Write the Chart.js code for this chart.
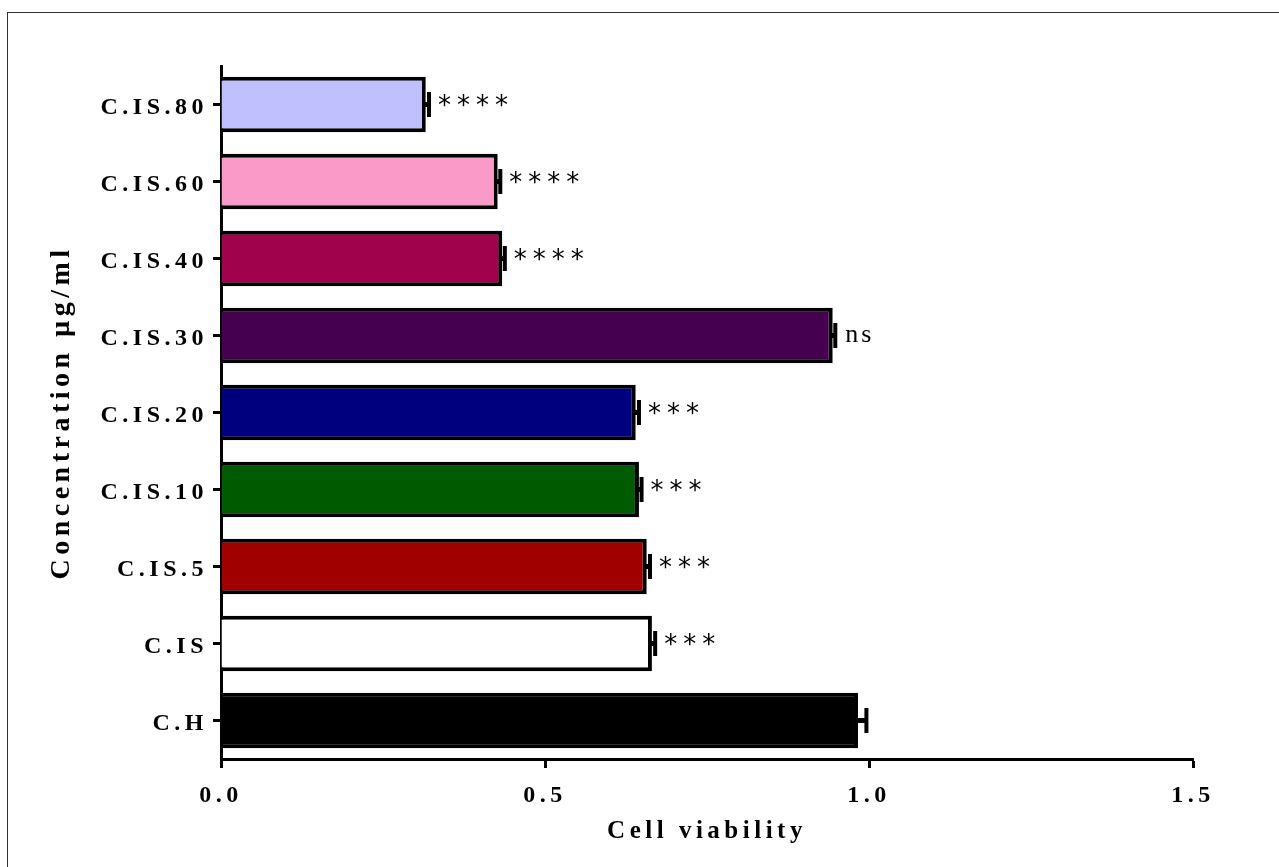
<!DOCTYPE html>
<html>
<head>
<meta charset="utf-8">
<script src="https://cdn.jsdelivr.net/npm/chart.js@4/dist/chart.umd.min.js"></script>
<style>
  html, body { margin: 0; padding: 0; background: #fff; overflow: hidden; }
  #wrap { position: relative; width: 1279px; height: 867px; }
  #frame { position: absolute; left: 7px; top: 12px; width: 1300px; height: 900px;
           border: 1px solid #333; box-sizing: border-box; pointer-events: none; }
  canvas { position: absolute; left: 0; top: 0; }
</style>
</head>
<body>
<div id="wrap">
  <canvas id="chart" width="1279" height="867"></canvas>
  <div id="frame"></div>
</div>
<script>
// Groups, top to bottom
const groups = ['C.IS.80', 'C.IS.60', 'C.IS.40', 'C.IS.30', 'C.IS.20', 'C.IS.10', 'C.IS.5', 'C.IS', 'C.H'];
// Mean cell viability per group
const viability = [0.316, 0.427, 0.434, 0.944, 0.640, 0.645, 0.657, 0.665, 0.983];
// Standard error per group
const sem = [0.005, 0.004, 0.004, 0.004, 0.005, 0.004, 0.005, 0.005, 0.013];
// Significance versus control
const significance = ['****', '****', '****', 'ns', '***', '***', '***', '***', ''];
// Value-axis ticks
const xTicks = [0, 0.5, 1.0, 1.5];
// Fill colour per group
const barColors = ['#C0C0FF', '#F99AC8', '#A0034B', '#460050', '#00007F', '#005A00', '#A00000', '#FFFFFF', '#000000'];

const SERIF = '"Liberation Serif", "Times New Roman", serif';

// Letter-spaced lettering for all axis text
const spacing = {
  id: 'spacing',
  beforeDraw(chart) { chart.ctx.letterSpacing = '4.5px'; }
};

// SEM whiskers and significance marks at the end of each bar
const whiskers = {
  id: 'whiskers',
  afterDatasetsDraw(chart) {
    const { ctx, scales: { x, y } } = chart;
    ctx.save();
    ctx.fillStyle = '#000';
    viability.forEach((v, i) => {
      const yc = y.getPixelForValue(i);
      const x0 = x.getPixelForValue(v);
      const x1 = x.getPixelForValue(v + sem[i]);
      ctx.fillRect(x0 - 2, yc - 2.5, x1 - x0 + 2, 5);
      ctx.fillRect(x1 - 2, yc - 12.5, 4, 25);

      const mark = significance[i];
      if (!mark) return;
      ctx.textAlign = 'left';
      ctx.textBaseline = 'middle';
      if (mark === 'ns') {
        ctx.font = '26px ' + SERIF;
        ctx.letterSpacing = '3px';
        ctx.fillText(mark, x1 + 10, yc);
      } else {
        ctx.font = '26px "DejaVu Sans", sans-serif';
        ctx.letterSpacing = '6px';
        ctx.fillText(mark, x1 + 9, yc + 3);
      }
    });
    ctx.restore();
  }
};

new Chart(document.getElementById('chart'), {
  type: 'bar',
  data: {
    labels: groups,
    datasets: [{
      data: viability,
      backgroundColor: barColors,
      borderColor: '#000',
      borderWidth: 4,
      barPercentage: 0.72,
      categoryPercentage: 1.0
    }]
  },
  options: {
    indexAxis: 'y',
    responsive: false,
    animation: false,
    devicePixelRatio: 1,
    layout: { padding: { top: 66, right: 86, left: 0, bottom: 0 } },
    plugins: { legend: { display: false }, tooltip: { enabled: false } },
    scales: {
      x: {
        min: 0,
        max: 1.5,
        afterBuildTicks(scale) { scale.ticks = xTicks.map(v => ({ value: v })); },
        afterFit(scale) { scale.height = 108; },
        border: { display: true, width: 3, color: '#000' },
        grid: { drawOnChartArea: false, drawTicks: true, tickLength: 9, tickWidth: 3, tickColor: '#000' },
        ticks: {
          color: '#000',
          padding: 13,
          font: { family: SERIF, size: 24, weight: 'bold' },
          callback: v => Number(v).toFixed(1)
        },
        title: {
          display: true,
          text: 'Cell viability',
          color: '#000',
          font: { family: SERIF, size: 25, weight: 'bold' },
          padding: { top: 0, bottom: 20 }
        }
      },
      y: {
        afterFit(scale) { scale.width = 221; },
        border: { display: true, width: 3, color: '#000' },
        grid: { offset: false, drawOnChartArea: false, drawTicks: true, tickLength: 8, tickWidth: 3, tickColor: '#000' },
        ticks: {
          color: '#000',
          padding: 5,
          labelOffset: 3,
          font: { family: SERIF, size: 24, weight: 'bold' }
        },
        title: {
          display: true,
          text: 'Concentration µg/ml',
          color: '#000',
          font: { family: SERIF, size: 28, weight: 'bold' },
          padding: { top: 45, bottom: 0 }
        }
      }
    }
  },
  plugins: [spacing, whiskers]
});
</script>
</body>
</html>
